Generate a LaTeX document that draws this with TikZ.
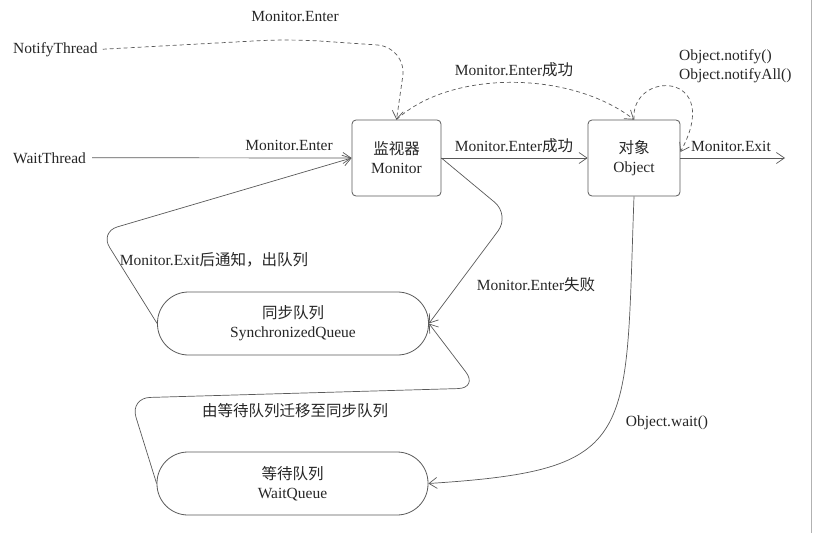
\documentclass[tikz,border=0pt]{standalone}
\usepackage{fontspec}
\setmainfont{Liberation Serif}
\newfontfamily\cjk{Noto Sans CJK SC}
\usetikzlibrary{arrows.meta}
\newcommand{\zhtxt}[1]{{\cjk #1}}
\definecolor{linegray}{gray}{0.35}
\definecolor{textgray}{gray}{0.15}

\begin{document}
\begin{tikzpicture}[x=1pt,y=-1pt,
    font=\fontsize{15.5pt}{19pt}\selectfont,
    >={Straight Barb[length=8pt,width=11pt]},
    box/.style={draw=linegray,line width=0.8pt,rounded corners=4pt,minimum width=89pt,minimum height=76pt,align=center,text=textgray},
    queue/.style={draw=linegray,line width=0.8pt,rounded corners=31pt,minimum width=271pt,minimum height=63pt,align=center,text=textgray},
    txt/.style={text=textgray,inner sep=2pt},
    flow/.style={draw=linegray,line width=0.7pt,->},
    dflow/.style={flow,dash pattern=on 4pt off 3pt}]
  \useasboundingbox (0,0) rectangle (814,533);
  % boxes
  \node[box] (mon) at (396.5,158) {\zhtxt{监视器}\\Monitor};
  \node[box,minimum width=92pt] (obj) at (634,158) {\zhtxt{对象}\\Object};
  \node[queue] (syncq) at (293,323.5) {\zhtxt{同步队列}\\SynchronizedQueue};
  \node[queue] (waitq) at (292.5,483.5) {\zhtxt{等待队列}\\WaitQueue};
  % threads
  \node[txt,inner sep=5pt,anchor=base west] (nt) at (8,53) {NotifyThread};
  \node[txt,inner sep=6pt,anchor=base west] (wt) at (7,163) {WaitThread};
  \coordinate (exit) at (785,158);
  % labels
  \node[txt,anchor=base] (l-ntenter) at (295,21) {Monitor.Enter};
  \node[txt,anchor=base] (l-okup) at (514,75) {Monitor.Enter\zhtxt{成功}};
  \node[txt,anchor=west,align=left] (l-notify) at (677,66) {Object.notify()\\Object.notifyAll()};
  \node[txt,anchor=base] (l-wtenter) at (289,150) {Monitor.Enter};
  \node[txt,anchor=base] (l-ok) at (514,151) {Monitor.Enter\zhtxt{成功}};
  \node[txt,anchor=base] (l-exit) at (731,151) {Monitor.Exit};
  \node[txt,anchor=base] (l-back) at (214,265) {Monitor.Exit\zhtxt{后通知，出队列}};
  \node[txt,anchor=base] (l-fail) at (536,290) {Monitor.Enter\zhtxt{失败}};
  \node[txt,anchor=base] (l-move) at (295,416) {\zhtxt{由等待队列迁移至同步队列}};
  \node[txt,anchor=base] (l-wait) at (667,426) {Object.wait()};
  % dashed edges
  \draw[dflow,rounded corners=30pt] (nt.east) -- (290,39) -- (407,47) -- (mon.north);
  \draw[dflow] (mon.north) .. controls (450,70) and (570,70) .. (obj.north);
  \draw[dflow] (obj.north) .. controls (630,70) and (725,70) .. ([yshift=6pt]obj.east);
  % solid edges
  \draw[flow] (wt.east) -- (mon.west);
  \draw[flow] (mon.east) -- (obj.west);
  \draw[flow] (obj.east) -- (exit);
  \draw[flow,rounded corners=20pt] (mon.east) -- (510,215) -- (syncq.east);
  \draw[flow,rounded corners=18pt] (syncq.west) -- (100,232) -- (mon.west);
  \draw[flow] (obj.south) .. controls (625,440) and (640,470) .. (waitq.east);
  \draw[flow,rounded corners=20pt] (waitq.west) -- (130,398) -- (478,388) -- (syncq.east);
  % page edge
  \draw[black!30] (811,0) -- (811,533);
\end{tikzpicture}
\end{document}
